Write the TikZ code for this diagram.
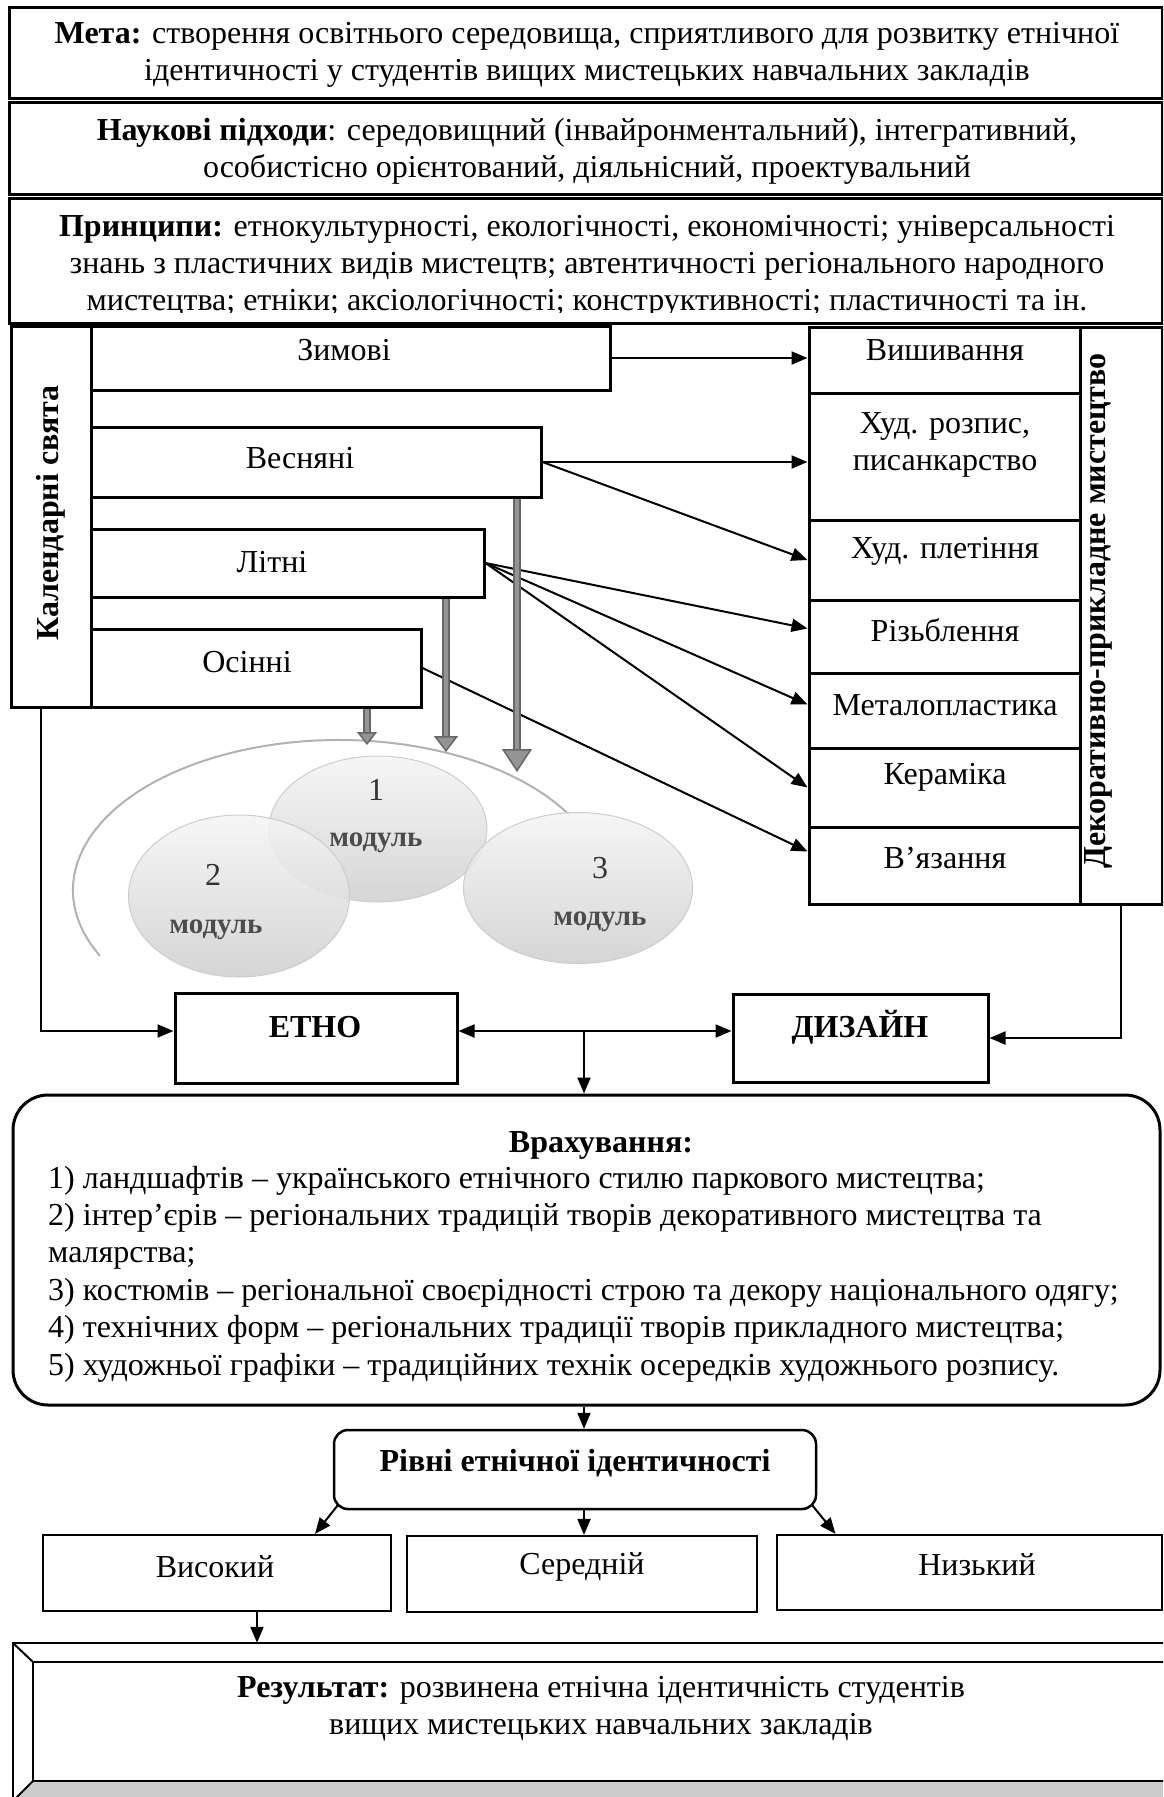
\documentclass[tikz,border=0pt]{standalone}
\usepackage{fontspec}
\setmainfont{Liberation Serif}
\usetikzlibrary{arrows.meta,shapes.geometric,fit,calc}
\begin{document}
\begin{tikzpicture}[x=1pt,y=-1pt,
  every node/.style={font=\fontsize{32}{37}\selectfont, inner sep=0pt},
  bx/.style={draw, line width=3pt, inner sep=0pt, fit={#1}},
  lbx/.style={draw, line width=2.2pt, inner sep=0pt, fit={#1}},
  txt/.style={align=center},
  bold/.style={font=\fontsize{32}{37}\selectfont\bfseries},
  conn/.style={line width=2pt, -{Triangle[length=16pt,width=13pt]}},
  dconn/.style={line width=2pt, {Triangle[length=16pt,width=13pt]}-{Triangle[length=16pt,width=13pt]}},
  garrow/.style 2 args={line width=8.5pt, draw=black!60, -{Triangle[length=#1,width=#2,line width=1.5pt,fill=black!42]}},
  ginner/.style={line width=3.5pt, draw=black!42, shorten >=#1},
  module/.style={ellipse, draw=gray!40, line width=1pt, top color=gray!8, bottom color=gray!38, fill opacity=0.85},
  modnum/.style={font=\fontsize{32}{32}\selectfont, text=black!80},
  modtxt/.style={font=\fontsize{29}{29}\selectfont\bfseries, text=black!70},
]
\useasboundingbox (0,0) rectangle (1163,1797);
\fill[white] (0,0) rectangle (1163,1797);
\clip (0,0) rectangle (1163,1797);

% ---------- top boxes ----------
\node[bx={(9,7)(1162,98)}] (meta) {};
\node[txt] (metaT) at (587,55) {\textbf{Мета:} створення освітнього середовища, сприятливого для розвитку етнічної\\ідентичності у студентів вищих мистецьких навчальних закладів};
\node[bx={(9,102)(1162,194)}] (nauk) {};
\node[txt] (naukT) at (587,151) {\textbf{Наукові підходи}: середовищний (інвайронментальний), інтегративний,\\особистісно орієнтований, діяльнісний, проектувальний};
\node[bx={(9,198)(1162,323)}] (princ) {};
\begin{scope}
\clip (9,198) rectangle (1162,312);
\node[txt] (princT) at (587,266) {\textbf{Принципи:} етнокультурності, екологічності, економічності; універсальності\\знань з пластичних видів мистецтв; автентичності регіонального народного\\мистецтва; етніки; аксіологічності; конструктивності; пластичності та ін.};
\end{scope}

% ---------- calendar ----------
\node[bx={(11,326)(91,707)}] (kal) {};
\node[bold, rotate=90] (kalT) at (51,513) {Календарні свята};
\node[bx={(91,326)(610,390)}] (zim) {};
\node (zimT) at (344,350) {Зимові};
\node[bx={(91,427)(541,497)}] (ves) {};
\node (vesT) at (300,458) {Весняні};
\node[bx={(91,529)(484,597)}] (lit) {};
\node (litT) at (272,562) {Літні};
\node[bx={(91,629)(421,707)}] (osin) {};
\node (osinT) at (247,662) {Осінні};

% ---------- crafts ----------
\node[bx={(809,327)(1080,393)}] (vysh) {};
\node (vyshT) at (945,350) {Вишивання};
\node[bx={(809,393)(1080,520)}] (rozp) {};
\node[txt] (rozpT) at (945,445) {Худ. розпис,\\писанкарство};
\node[bx={(809,520)(1080,600)}] (plet) {};
\node (pletT) at (945,551) {Худ. плетіння};
\node[bx={(809,600)(1080,673)}] (riz) {};
\node (rizT) at (945,630) {Різьблення};
\node[bx={(809,673)(1080,748)}] (met) {};
\node (metT) at (945,705) {Металопластика};
\node[bx={(809,748)(1080,827)}] (ker) {};
\node (kerT) at (945,777) {Кераміка};
\node[bx={(809,827)(1080,904)}] (vyaz) {};
\node (vyazT) at (945,858) {В’язання};
\node[bx={(1080,327)(1162,904)}] (dek) {};
\node[bold, rotate=90] (dekT) at (1098,611) {Декоративно-прикладне мистецтво};

% ---------- season -> craft arrows ----------
\draw[conn] (zim.east) -- (zim.east -| vysh.west);
\draw[conn] (ves.east) -- (ves.east -| rozp.west);
\draw[conn] (ves.east) -- (plet.west);
\draw[conn] (lit.east) -- ([yshift=8pt]riz.west);
\draw[conn] (lit.east) -- ([yshift=6pt]met.west);
\draw[conn] (lit.east) -- (ker.west);
\draw[conn] (osin.east) -- ([yshift=14pt]vyaz.west);

% ---------- modules ----------
\draw[gray!60, line width=2pt] (339,890) ++(154:266 and 150) arc[start angle=154, end angle=330, x radius=266, y radius=150];
\node[module, minimum width=218pt, minimum height=146pt] (m1) at (378,829) {};
\node[module, minimum width=221pt, minimum height=162pt] (m2) at (239,896) {};
\node[module, minimum width=229pt, minimum height=151pt] (m3) at (578,888) {};
\node[modnum] (m1n) at (376,790) {1};
\node[modtxt] (m1t) at (376,843) {модуль};
\node[modnum] (m2n) at (213,875) {2};
\node[modtxt] (m2t) at (216,930) {модуль};
\node[modnum] (m3n) at (600,868) {3};
\node[modtxt] (m3t) at (600,922) {модуль};

\coordinate (g1) at (517,772);
\coordinate (g2) at (446,752);
\coordinate (g3) at (367,745);
\draw[garrow={23pt}{30pt}] (ves.south -| g1) -- (g1);
\draw[ginner=23pt] (ves.south -| g1) -- (g1);
\draw[garrow={16pt}{24pt}] (lit.south -| g2) -- (g2);
\draw[ginner=16pt] (lit.south -| g2) -- (g2);
\draw[garrow={13pt}{20pt}] (osin.south -| g3) -- (g3);
\draw[ginner=13pt] (osin.south -| g3) -- (g3);

% ---------- ETNO / DESIGN ----------
\node[bx={(175,993)(457,1083)}] (etno) {};
\node[bold] (etnoT) at (315,1027) {ЕТНО};
\node[bx={(733,994)(988,1082)}] (dyz) {};
\node[bold] (dyzT) at (860,1027) {ДИЗАЙН};
\draw[conn] ([xshift=-10pt]kal.south) |- ([yshift=7pt]etno.west);
\draw[dconn] ([yshift=7pt]etno.east) -- ([yshift=7pt]dyz.west);
\draw[conn] (dek.south) |- (dyz.east);
\coordinate (mid) at (584,1031);

% ---------- Vrakhuvannya ----------
\node[draw, line width=3pt, rounded corners=35pt, fit={(13,1095)(1160,1405)}] (vrah) {};
\draw[conn] (mid) -- (mid |- vrah.north);
\node[bold] (vrahH) at (601,1145) {Врахування:};
\node[align=left, anchor=west, font=\fontsize{32}{37.4}\selectfont] (vrahT) at (48,1274) {1) ландшафтів – українського етнічного стилю паркового мистецтва;\\2) інтер’єрів – регіональних традицій творів декоративного мистецтва та\\малярства;\\3) костюмів – регіональної своєрідності строю та декору національного одягу;\\4) технічних форм – регіональних традиції творів прикладного мистецтва;\\5) художньої графіки – традиційних технік осередків художнього розпису.};

% ---------- levels ----------
\node[draw, line width=2.5pt, rounded corners=14pt, fit={(334,1430)(816,1509)}] (rivni) {};
\node[bold] (rivniT) at (575,1463) {Рівні етнічної ідентичності};
\draw[conn] (vrah.south -| mid) -- (mid |- rivni.north);
\node[lbx={(43,1535)(391,1611)}] (vys) {};
\node (vysT) at (215,1567) {Високий};
\node[lbx={(407,1536)(757,1612)}] (ser) {};
\node (serT) at (582,1567) {Середній};
\node[lbx={(777,1535)(1162,1610)}] (nyz) {};
\node (nyzT) at (977,1565) {Низький};
\draw[conn] (rivni.south -| mid) -- (mid |- ser.north);
\draw[conn] ([shift={(5,-5)}]rivni.south west) -- ([xshift=98pt]vys.north);
\draw[conn] ([shift={(-5,-5)}]rivni.south east) -- ([xshift=-134pt]nyz.north);

% ---------- result ----------
\node[inner sep=0pt, fit={(13,1643)(1180,1815)}] (res) {};
\fill[gray!40] (33,1781) -- (1180,1781) -- (1180,1815) -- (13,1815) -- (13,1801) -- cycle;
\draw[line width=2.5pt] (13,1643) rectangle (1180,1815);
\draw[line width=2.5pt] (33,1662) rectangle (1180,1781);
\draw[line width=2pt] (13,1643) -- (33,1662) (33,1781) -- (13,1801);
\node[txt] (resT) at (601,1709) {\textbf{Результат:} розвинена етнічна ідентичність студентів\\вищих мистецьких навчальних закладів};
\draw[conn] ([xshift=40pt]vys.south) -- ([xshift=40pt]vys.south |- res.north);
\end{tikzpicture}
\end{document}
